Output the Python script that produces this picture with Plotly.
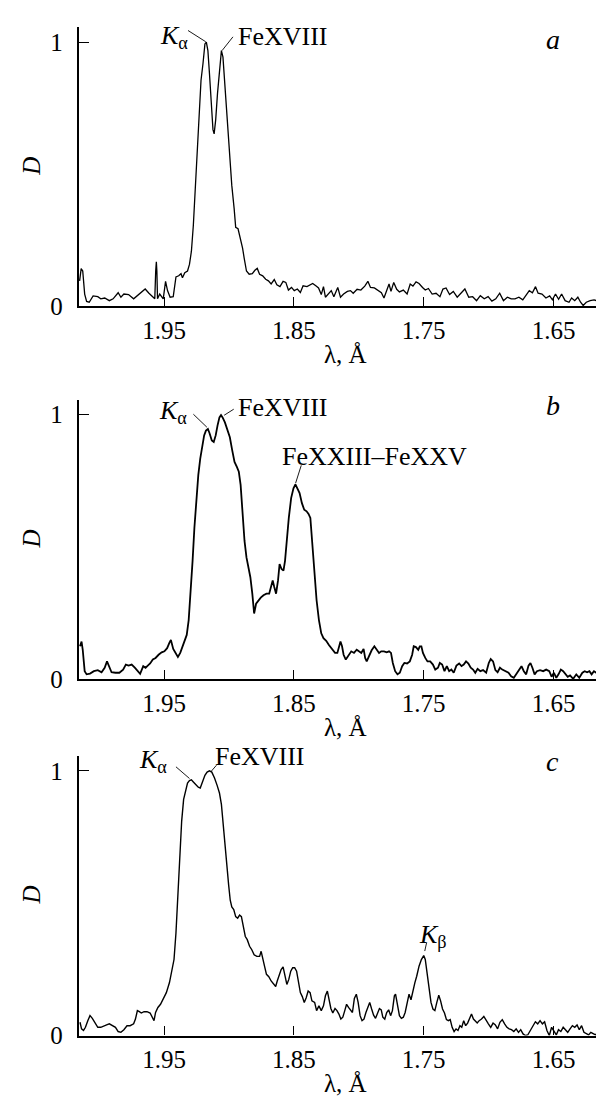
import plotly.graph_objects as go

# ---------------- data ----------------
lam_a = [2.0150, 2.0138, 2.0126, 2.0111, 2.0096, 2.0076, 2.0046, 2.0010, 1.9987, 1.9957,
         1.9921, 1.9892, 1.9853, 1.9832, 1.9809, 1.9773, 1.9734, 1.9690, 1.9645, 1.9616,
         1.9586, 1.9571, 1.9564, 1.9559, 1.9555, 1.9550, 1.9533, 1.9506, 1.9488, 1.9473,
         1.9453, 1.9429, 1.9408, 1.9387, 1.9369, 1.9358, 1.9340, 1.9319, 1.9304, 1.9289,
         1.9274, 1.9260, 1.9245, 1.9230, 1.9215, 1.9200, 1.9185, 1.9174, 1.9162, 1.9150,
         1.9135, 1.9123, 1.9114, 1.9102, 1.9088, 1.9073, 1.9058, 1.9046, 1.9031, 1.9013,
         1.8999, 1.8978, 1.8960, 1.8948, 1.8930, 1.8912, 1.8895, 1.8883, 1.8865, 1.8844,
         1.8820, 1.8800, 1.8782, 1.8764, 1.8740, 1.8717, 1.8696, 1.8675, 1.8651, 1.8631,
         1.8607, 1.8583, 1.8562, 1.8542, 1.8518, 1.8497, 1.8473, 1.8450, 1.8429, 1.8399,
         1.8375, 1.8355, 1.8331, 1.8310, 1.8289, 1.8272, 1.8257, 1.8236, 1.8212, 1.8192,
         1.8162, 1.8141, 1.8117, 1.8088, 1.8064, 1.8043, 1.8013, 1.7984, 1.7954, 1.7930,
         1.7910, 1.7880, 1.7850, 1.7826, 1.7806, 1.7785, 1.7767, 1.7752, 1.7731, 1.7708,
         1.7687, 1.7657, 1.7628, 1.7604, 1.7583, 1.7559, 1.7536, 1.7509, 1.7488, 1.7464,
         1.7435, 1.7405, 1.7375, 1.7352, 1.7328, 1.7301, 1.7272, 1.7242, 1.7212, 1.7183,
         1.7153, 1.7123, 1.7093, 1.7064, 1.7034, 1.7004, 1.6975, 1.6945, 1.6915, 1.6886,
         1.6856, 1.6826, 1.6797, 1.6767, 1.6737, 1.6708, 1.6687, 1.6663, 1.6639, 1.6619,
         1.6589, 1.6559, 1.6530, 1.6509, 1.6485, 1.6461, 1.6438, 1.6411, 1.6381, 1.6361,
         1.6337, 1.6313, 1.6292, 1.6272, 1.6248, 1.6218, 1.6188, 1.6159, 1.6129, 1.6105,
         1.6085, 1.6055, 1.6040]
d_a = [0.097, 0.143, 0.134, 0.047, 0.019, 0.016, 0.040, 0.037, 0.029, 0.032,
       0.022, 0.029, 0.052, 0.035, 0.047, 0.045, 0.029, 0.047, 0.066, 0.050,
       0.035, 0.029, 0.134, 0.169, 0.134, 0.029, 0.047, 0.029, 0.095, 0.060,
       0.035, 0.037, 0.112, 0.116, 0.124, 0.109, 0.128, 0.134, 0.159, 0.209,
       0.308, 0.433, 0.582, 0.731, 0.856, 0.918, 0.993, 1.000, 0.968, 0.881,
       0.769, 0.669, 0.653, 0.706, 0.806, 0.905, 0.968, 0.943, 0.831, 0.706,
       0.582, 0.458, 0.371, 0.299, 0.294, 0.259, 0.221, 0.184, 0.134, 0.122,
       0.124, 0.137, 0.144, 0.122, 0.116, 0.103, 0.097, 0.085, 0.102, 0.082,
       0.075, 0.095, 0.091, 0.062, 0.072, 0.060, 0.066, 0.053, 0.078, 0.075,
       0.082, 0.087, 0.078, 0.070, 0.045, 0.075, 0.035, 0.047, 0.060, 0.037,
       0.072, 0.035, 0.047, 0.057, 0.060, 0.050, 0.065, 0.062, 0.077, 0.095,
       0.072, 0.070, 0.060, 0.052, 0.032, 0.060, 0.085, 0.057, 0.091, 0.065,
       0.055, 0.062, 0.047, 0.085, 0.077, 0.093, 0.087, 0.072, 0.062, 0.068,
       0.047, 0.050, 0.037, 0.066, 0.070, 0.045, 0.057, 0.035, 0.052, 0.066,
       0.035, 0.037, 0.022, 0.041, 0.029, 0.037, 0.020, 0.029, 0.050, 0.022,
       0.035, 0.029, 0.029, 0.035, 0.025, 0.047, 0.060, 0.052, 0.075, 0.050,
       0.047, 0.032, 0.040, 0.025, 0.047, 0.027, 0.047, 0.022, 0.016, 0.032,
       0.022, 0.035, 0.016, 0.004, 0.016, 0.022, 0.025, 0.020, 0.029, 0.037,
       0.020, 0.022, 0.020]

lam_b = [2.0147, 2.0135, 2.0126, 2.0111, 2.0096, 2.0070, 2.0040, 2.0010, 1.9981, 1.9957,
         1.9939, 1.9921, 1.9904, 1.9874, 1.9844, 1.9815, 1.9794, 1.9773, 1.9749, 1.9725,
         1.9702, 1.9684, 1.9660, 1.9642, 1.9625, 1.9607, 1.9586, 1.9565, 1.9542, 1.9518,
         1.9497, 1.9476, 1.9458, 1.9447, 1.9429, 1.9408, 1.9393, 1.9375, 1.9358, 1.9340,
         1.9325, 1.9310, 1.9295, 1.9280, 1.9266, 1.9251, 1.9236, 1.9221, 1.9206, 1.9191,
         1.9177, 1.9162, 1.9150, 1.9132, 1.9117, 1.9102, 1.9088, 1.9073, 1.9061, 1.9049,
         1.9031, 1.9013, 1.8993, 1.8975, 1.8957, 1.8939, 1.8924, 1.8910, 1.8895, 1.8880,
         1.8865, 1.8847, 1.8835, 1.8820, 1.8806, 1.8791, 1.8776, 1.8755, 1.8734, 1.8711,
         1.8690, 1.8675, 1.8663, 1.8651, 1.8637, 1.8622, 1.8610, 1.8595, 1.8580, 1.8568,
         1.8556, 1.8539, 1.8521, 1.8503, 1.8488, 1.8473, 1.8456, 1.8438, 1.8420, 1.8402,
         1.8387, 1.8373, 1.8355, 1.8340, 1.8325, 1.8307, 1.8289, 1.8272, 1.8251, 1.8230,
         1.8212, 1.8197, 1.8183, 1.8165, 1.8153, 1.8141, 1.8129, 1.8117, 1.8100, 1.8079,
         1.8058, 1.8037, 1.8016, 1.7999, 1.7981, 1.7963, 1.7951, 1.7939, 1.7921, 1.7901,
         1.7880, 1.7862, 1.7844, 1.7827, 1.7806, 1.7785, 1.7767, 1.7752, 1.7738, 1.7720,
         1.7702, 1.7684, 1.7666, 1.7649, 1.7628, 1.7607, 1.7589, 1.7577, 1.7560, 1.7542,
         1.7530, 1.7518, 1.7506, 1.7488, 1.7471, 1.7450, 1.7429, 1.7411, 1.7390, 1.7376,
         1.7358, 1.7340, 1.7322, 1.7304, 1.7287, 1.7269, 1.7248, 1.7227, 1.7209, 1.7192,
         1.7174, 1.7156, 1.7138, 1.7120, 1.7103, 1.7085, 1.7064, 1.7043, 1.7019, 1.6999,
         1.6984, 1.6966, 1.6948, 1.6931, 1.6913, 1.6895, 1.6871, 1.6847, 1.6827, 1.6806,
         1.6788, 1.6767, 1.6747, 1.6729, 1.6711, 1.6693, 1.6678, 1.6663, 1.6646, 1.6628,
         1.6604, 1.6580, 1.6557, 1.6533, 1.6515, 1.6497, 1.6479, 1.6462, 1.6444, 1.6426,
         1.6408, 1.6391, 1.6373, 1.6349, 1.6325, 1.6302, 1.6278, 1.6260, 1.6242, 1.6224,
         1.6207, 1.6189, 1.6171, 1.6153, 1.6135, 1.6115, 1.6094, 1.6076, 1.6055, 1.6040]
d_b = [0.125, 0.143, 0.112, 0.031, 0.019, 0.022, 0.031, 0.035, 0.027, 0.044,
       0.068, 0.050, 0.027, 0.025, 0.025, 0.037, 0.056, 0.052, 0.056, 0.044,
       0.031, 0.021, 0.050, 0.044, 0.052, 0.060, 0.075, 0.081, 0.093, 0.102,
       0.106, 0.118, 0.139, 0.149, 0.115, 0.097, 0.085, 0.100, 0.125, 0.143,
       0.168, 0.224, 0.324, 0.448, 0.573, 0.685, 0.772, 0.834, 0.872, 0.922,
       0.940, 0.946, 0.931, 0.903, 0.897, 0.922, 0.959, 0.990, 0.999, 0.990,
       0.971, 0.946, 0.915, 0.866, 0.822, 0.803, 0.785, 0.735, 0.623, 0.523,
       0.461, 0.423, 0.386, 0.324, 0.249, 0.286, 0.296, 0.309, 0.318, 0.324,
       0.324, 0.349, 0.374, 0.349, 0.324, 0.374, 0.436, 0.417, 0.411, 0.448,
       0.523, 0.610, 0.685, 0.722, 0.737, 0.722, 0.704, 0.666, 0.641, 0.635,
       0.625, 0.610, 0.498, 0.386, 0.299, 0.224, 0.174, 0.156, 0.146, 0.130,
       0.117, 0.110, 0.100, 0.100, 0.127, 0.143, 0.125, 0.093, 0.075, 0.093,
       0.106, 0.100, 0.112, 0.106, 0.100, 0.115, 0.081, 0.068, 0.087, 0.110,
       0.125, 0.112, 0.100, 0.106, 0.106, 0.102, 0.106, 0.100, 0.062, 0.031,
       0.019, 0.025, 0.050, 0.062, 0.060, 0.068, 0.093, 0.125, 0.122, 0.112,
       0.125, 0.125, 0.100, 0.081, 0.068, 0.068, 0.056, 0.037, 0.044, 0.062,
       0.056, 0.031, 0.050, 0.031, 0.037, 0.025, 0.052, 0.060, 0.050, 0.056,
       0.068, 0.060, 0.044, 0.037, 0.025, 0.040, 0.031, 0.035, 0.025, 0.062,
       0.077, 0.068, 0.035, 0.027, 0.044, 0.037, 0.031, 0.025, 0.012, 0.006,
       0.019, 0.037, 0.050, 0.031, 0.019, 0.052, 0.062, 0.044, 0.019, 0.031,
       0.035, 0.031, 0.037, 0.031, 0.010, 0.025, 0.006, 0.019, 0.037, 0.031,
       0.022, 0.010, 0.015, 0.002, 0.019, 0.006, 0.025, 0.031, 0.027, 0.031,
       0.019, 0.031, 0.025, 0.015, 0.010, 0.027, 0.025, 0.019, 0.015, 0.018]

lam_c = [2.0147, 2.0135, 2.0120, 2.0105, 2.0087, 2.0070, 2.0052, 2.0031, 2.0010, 1.9987,
         1.9963, 1.9942, 1.9921, 1.9898, 1.9874, 1.9853, 1.9832, 1.9809, 1.9785, 1.9761,
         1.9734, 1.9720, 1.9705, 1.9690, 1.9675, 1.9654, 1.9631, 1.9607, 1.9586, 1.9577,
         1.9565, 1.9547, 1.9527, 1.9506, 1.9482, 1.9458, 1.9438, 1.9423, 1.9408, 1.9393,
         1.9378, 1.9364, 1.9349, 1.9334, 1.9319, 1.9304, 1.9289, 1.9274, 1.9254, 1.9236,
         1.9221, 1.9203, 1.9185, 1.9168, 1.9150, 1.9132, 1.9111, 1.9091, 1.9073, 1.9058,
         1.9043, 1.9028, 1.9013, 1.9002, 1.8990, 1.8978, 1.8963, 1.8948, 1.8933, 1.8918,
         1.8904, 1.8889, 1.8874, 1.8859, 1.8841, 1.8824, 1.8806, 1.8785, 1.8764, 1.8752,
         1.8740, 1.8726, 1.8711, 1.8693, 1.8675, 1.8657, 1.8640, 1.8628, 1.8613, 1.8598,
         1.8583, 1.8568, 1.8554, 1.8539, 1.8524, 1.8509, 1.8494, 1.8479, 1.8465, 1.8450,
         1.8435, 1.8420, 1.8405, 1.8390, 1.8375, 1.8361, 1.8340, 1.8325, 1.8307, 1.8289,
         1.8272, 1.8257, 1.8242, 1.8230, 1.8215, 1.8200, 1.8183, 1.8168, 1.8153, 1.8138,
         1.8123, 1.8108, 1.8094, 1.8079, 1.8064, 1.8049, 1.8034, 1.8019, 1.8005, 1.7990,
         1.7975, 1.7960, 1.7945, 1.7930, 1.7916, 1.7901, 1.7886, 1.7871, 1.7856, 1.7841,
         1.7827, 1.7815, 1.7800, 1.7785, 1.7770, 1.7755, 1.7741, 1.7726, 1.7717, 1.7702,
         1.7687, 1.7672, 1.7657, 1.7643, 1.7628, 1.7613, 1.7598, 1.7583, 1.7568, 1.7554,
         1.7536, 1.7518, 1.7500, 1.7488, 1.7474, 1.7459, 1.7444, 1.7429, 1.7414, 1.7399,
         1.7384, 1.7370, 1.7355, 1.7340, 1.7325, 1.7310, 1.7296, 1.7281, 1.7266, 1.7251,
         1.7236, 1.7221, 1.7207, 1.7192, 1.7177, 1.7162, 1.7147, 1.7132, 1.7117, 1.7103,
         1.7088, 1.7073, 1.7055, 1.7037, 1.7019, 1.7002, 1.6984, 1.6966, 1.6948, 1.6931,
         1.6913, 1.6895, 1.6877, 1.6859, 1.6842, 1.6824, 1.6806, 1.6788, 1.6770, 1.6753,
         1.6735, 1.6717, 1.6699, 1.6678, 1.6658, 1.6640, 1.6622, 1.6604, 1.6586, 1.6569,
         1.6551, 1.6533, 1.6515, 1.6497, 1.6479, 1.6462, 1.6444, 1.6426, 1.6408, 1.6391,
         1.6373, 1.6355, 1.6337, 1.6319, 1.6302, 1.6284, 1.6266, 1.6248, 1.6230, 1.6213,
         1.6195, 1.6177, 1.6159, 1.6141, 1.6124, 1.6106, 1.6088, 1.6070, 1.6055, 1.6040]
d_c = [0.050, 0.025, 0.019, 0.031, 0.056, 0.075, 0.065, 0.047, 0.031, 0.031,
       0.037, 0.040, 0.044, 0.037, 0.031, 0.015, 0.012, 0.022, 0.037, 0.037,
       0.044, 0.062, 0.094, 0.090, 0.085, 0.090, 0.090, 0.085, 0.060, 0.056,
       0.087, 0.106, 0.118, 0.137, 0.162, 0.200, 0.243, 0.287, 0.387, 0.536,
       0.686, 0.810, 0.892, 0.929, 0.954, 0.963, 0.966, 0.958, 0.945, 0.938,
       0.935, 0.960, 0.983, 0.995, 1.000, 0.995, 0.973, 0.945, 0.916, 0.873,
       0.786, 0.711, 0.636, 0.567, 0.511, 0.486, 0.476, 0.449, 0.443, 0.455,
       0.449, 0.405, 0.374, 0.362, 0.337, 0.324, 0.305, 0.299, 0.299, 0.318,
       0.287, 0.262, 0.231, 0.222, 0.206, 0.193, 0.185, 0.206, 0.231, 0.249,
       0.259, 0.227, 0.193, 0.212, 0.243, 0.256, 0.256, 0.243, 0.206, 0.162,
       0.147, 0.125, 0.143, 0.168, 0.162, 0.131, 0.125, 0.094, 0.112, 0.094,
       0.112, 0.150, 0.168, 0.137, 0.102, 0.085, 0.102, 0.094, 0.081, 0.062,
       0.069, 0.094, 0.118, 0.106, 0.094, 0.087, 0.140, 0.156, 0.125, 0.075,
       0.056, 0.062, 0.087, 0.106, 0.125, 0.100, 0.077, 0.065, 0.085, 0.102,
       0.097, 0.069, 0.062, 0.087, 0.097, 0.075, 0.094, 0.150, 0.156, 0.118,
       0.075, 0.065, 0.069, 0.087, 0.125, 0.156, 0.135, 0.175, 0.200, 0.224,
       0.262, 0.287, 0.302, 0.287, 0.237, 0.175, 0.125, 0.100, 0.094, 0.125,
       0.152, 0.131, 0.100, 0.085, 0.060, 0.056, 0.060, 0.031, 0.015, 0.025,
       0.019, 0.037, 0.031, 0.056, 0.037, 0.047, 0.062, 0.081, 0.062, 0.056,
       0.047, 0.056, 0.062, 0.072, 0.056, 0.044, 0.031, 0.047, 0.040, 0.025,
       0.050, 0.060, 0.044, 0.031, 0.025, 0.022, 0.015, 0.025, 0.012, 0.022,
       0.006, 0.000, 0.002, 0.019, 0.037, 0.052, 0.044, 0.056, 0.044, 0.052,
       0.019, 0.000, 0.031, 0.015, 0.002, 0.022, 0.015, 0.031, 0.022, 0.012,
       0.025, 0.037, 0.031, 0.040, 0.022, 0.037, 0.012, 0.006, 0.002, 0.012,
       0.006, 0.002, 0.012, 0.031, 0.037, 0.019, 0.012, 0.025, 0.031, 0.035]

x_tick_vals = [1.95, 1.85, 1.75, 1.65]
x_tick_text = ["1.95", "1.85", "1.75", "1.65"]
y_tick_vals = [0, 1]
y_tick_text = ["0", "1"]
panel_letters = ["a", "b", "c"]
x_title = "λ, Å"
y_title = "D"

assert len(lam_a) == len(d_a) and len(lam_b) == len(d_b) and len(lam_c) == len(d_c)

# ---------------- layout geometry ----------------
W, H = 604, 1104
X_RANGE = [2.0157, 1.605]
Y_RANGE = [0, 1.057]
panel_px = [(19.3, 302.3), (396.7, 680.0), (757.3, 1040.7)]   # (top, bottom) of plot area
x_left_px = 70.7
FONT = "Liberation Serif, Times New Roman, DejaVu Serif, serif"
FS = 25
AS = 26
line_widths = [1.3, 1.8, 1.4]

fig = go.Figure()
series = [(lam_a, d_a), (lam_b, d_b), (lam_c, d_c)]
for i, (lam, d) in enumerate(series):
    sfx = "" if i == 0 else str(i + 1)
    fig.add_trace(go.Scatter(x=lam, y=d, mode="lines",
                             line=dict(color="black", width=line_widths[i]),
                             xaxis="x" + sfx, yaxis="y" + sfx,
                             showlegend=False, hoverinfo="skip"))

layout = dict(width=W, height=H, margin=dict(l=0, r=0, t=0, b=0),
              paper_bgcolor="white", plot_bgcolor="white", showlegend=False,
              font=dict(family=FONT, size=FS, color="black"))
for i, (top, bot) in enumerate(panel_px):
    sfx = "" if i == 0 else str(i + 1)
    layout["xaxis" + sfx] = dict(
        domain=[x_left_px / W, 1], range=X_RANGE, anchor="y" + sfx,
        showline=True, linecolor="black", linewidth=2.4,
        ticks="inside", ticklen=9, tickwidth=1.2, tickcolor="black",
        tickvals=x_tick_vals, ticktext=x_tick_text,
        tickfont=dict(family=FONT, size=FS, color="black"),
        showgrid=False, zeroline=False, fixedrange=True)
    layout["yaxis" + sfx] = dict(
        domain=[1 - bot / H, 1 - top / H], range=Y_RANGE, anchor="x" + sfx,
        showline=True, linecolor="black", linewidth=2,
        ticks="inside", ticklen=10, tickwidth=1.2, tickcolor="black",
        tickvals=y_tick_vals, ticktext=y_tick_text, ticklabelstandoff=9,
        tickfont=dict(family=FONT, size=FS, color="black"),
        showgrid=False, zeroline=False, fixedrange=True)
fig.update_layout(**layout)

annotations = []
shapes = []
tf = dict(family=FONT, size=FS, color="black")

def add_text(i, x, y, text, xanchor="left", yanchor="middle", size=AS):
    sfx = "" if i == 0 else str(i + 1)
    annotations.append(dict(x=x, y=y, xref="x" + sfx, yref="y" + sfx, text=text,
                            showarrow=False, xanchor=xanchor, yanchor=yanchor,
                            font=dict(family=FONT, size=size, color="black")))

def add_leader(i, x0, y0, x1, y1):
    sfx = "" if i == 0 else str(i + 1)
    shapes.append(dict(type="line", xref="x" + sfx, yref="y" + sfx,
                       x0=x0, y0=y0, x1=x1, y1=y1,
                       line=dict(color="black", width=0.9)))

ka = "<i>K</i><sub>α</sub>"
kb = "<i>K</i><sub>β</sub>"
# panel a
add_text(0, 1.930, 1.018, ka, xanchor="right")
add_leader(0, 1.9315, 1.044, 1.9179, 1.0015)
add_text(0, 1.8946, 1.021, "FeXVIII")
add_leader(0, 1.8969, 1.020, 1.9053, 0.968)
# panel b
add_text(1, 1.9304, 1.012, ka, xanchor="right")
add_leader(1, 1.9274, 1.002, 1.9170, 0.953)
add_text(1, 1.8947, 1.027, "FeXVIII")
add_leader(1, 1.8963, 1.021, 1.9037, 0.998)
add_text(1, 1.8606, 0.844, "FeXXIII–FeXXV")
add_leader(1, 1.8443, 0.809, 1.8487, 0.741)
# panel c
add_text(2, 1.9461, 1.036, ka, xanchor="right")
add_leader(2, 1.9408, 1.015, 1.9304, 0.971)
add_text(2, 1.9126, 1.055, "FeXVIII")
add_leader(2, 1.9096, 1.021, 1.9140, 0.996)
add_text(2, 1.7552, 0.375, kb)
add_leader(2, 1.7478, 0.350, 1.7492, 0.319)

# panel letters
letter_y = [1.011, 1.034, 1.034]
for i, letter in enumerate(panel_letters):
    add_text(i, 1.6505, letter_y[i], "<i>" + letter + "</i>", xanchor="center", size=28)

# axis titles
for i, (top, bot) in enumerate(panel_px):
    annotations.append(dict(x=24 / W, y=1 - (top + bot) / 2 / H, xref="paper", yref="paper",
                            text="<i>" + y_title + "</i>", textangle=-90, showarrow=False,
                            xanchor="center", yanchor="middle", font=tf))
    annotations.append(dict(x=337 / W, y=1 - (bot + 49) / H, xref="paper", yref="paper",
                            text=x_title, showarrow=False,
                            xanchor="center", yanchor="middle", font=tf))

fig.update_layout(annotations=annotations, shapes=shapes)
fig.write_html("out.html")
